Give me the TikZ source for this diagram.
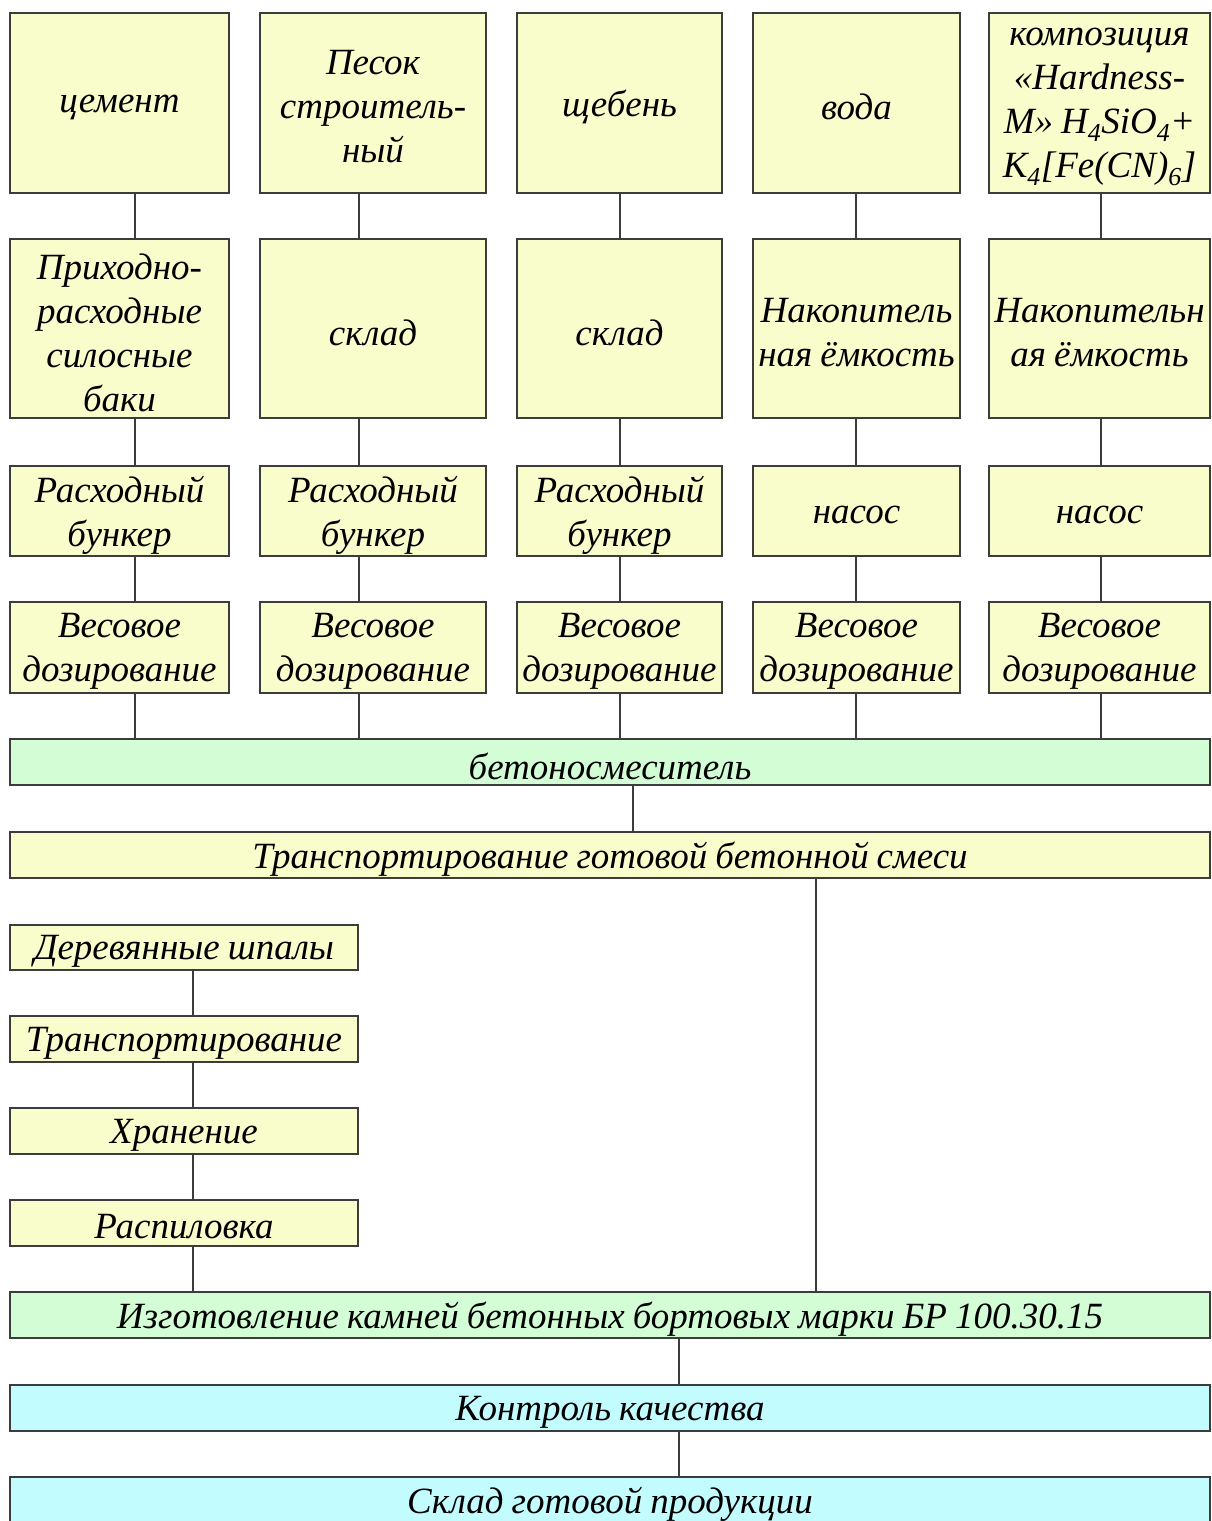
\documentclass[tikz,border=0pt]{standalone}
\usepackage{fontspec}
\setmainfont{Liberation Serif}
\begin{document}
\begin{tikzpicture}[x=1pt,y=-1pt,
  frame/.style={draw=linegray, line width=1.4pt, inner sep=0pt, anchor=center},
  yel/.style={frame, fill=boxyellow},
  grn/.style={frame, fill=boxgreen},
  cyn/.style={frame, fill=boxcyan},
  label/.style={inner sep=0pt, align=center, anchor=center,
    font=\itshape\fontsize{37}{44}\selectfont},
  link/.style={draw=linegray, line width=1.4pt}]
\definecolor{boxyellow}{HTML}{F9FDCB}
\definecolor{boxgreen}{HTML}{D3FDD5}
\definecolor{boxcyan}{HTML}{C3FCFF}
\definecolor{linegray}{HTML}{3C3C3C}
\useasboundingbox (0,0) rectangle (1211,1521);
% box helper: name, left, top, right, bottom, fill style, text
\newcommand\bx[7]{%
  \node[#6, minimum width={#4-#2}, minimum height={#5-#3}]
    (#1) at ({(#2+#4)/2},{(#3+#5)/2}) {};
  \node[label, text width={#4-#2-6}] (#1t) at ([yshift=-4pt]#1.center)
    {\spaceskip=8pt\relax #7};}
% row 1: raw materials
\bx{a1}{10}{13}{229}{193}{yel}{цемент}
\bx{b1}{260}{13}{486}{193}{yel}{Песок\\строитель-\\ный}
\bx{c1}{517}{13}{722}{193}{yel}{щебень}
\bx{d1}{753}{13}{960}{193}{yel}{вода}
\bx{e1}{989}{13}{1210}{193}{yel}{композиция\\«Hardness-\\M» H\textsubscript{4}SiO\textsubscript{4}+\\K\textsubscript{4}[Fe(CN)\textsubscript{6}]}
% row 2: storage
\bx{a2}{10}{239}{229}{418}{yel}{Приходно-\\расходные\\силосные\\баки}
\bx{b2}{260}{239}{486}{418}{yel}{склад}
\bx{c2}{517}{239}{722}{418}{yel}{склад}
\bx{d2}{753}{239}{960}{418}{yel}{Накопитель\\ная ёмкость}
\bx{e2}{989}{239}{1210}{418}{yel}{Накопительн\\ая ёмкость}
% row 3: feeding
\bx{a3}{10}{466}{229}{556}{yel}{Расходный\\бункер}
\bx{b3}{260}{466}{486}{556}{yel}{Расходный\\бункер}
\bx{c3}{517}{466}{722}{556}{yel}{Расходный\\бункер}
\bx{d3}{753}{466}{960}{556}{yel}{насос}
\bx{e3}{989}{466}{1210}{556}{yel}{насос}
% row 4: dosing
\bx{a4}{10}{602}{229}{693}{yel}{Весовое\\дозирование}
\bx{b4}{260}{602}{486}{693}{yel}{Весовое\\дозирование}
\bx{c4}{517}{602}{722}{693}{yel}{Весовое\\дозирование}
\bx{d4}{753}{602}{960}{693}{yel}{Весовое\\дозирование}
\bx{e4}{989}{602}{1210}{693}{yel}{Весовое\\дозирование}
% mixing and transport
\bx{mix}{10}{739}{1210}{785}{grn}{бетоносмеситель}
\bx{tr}{10}{832}{1210}{878}{yel}{Транспортирование готовой бетонной смеси}
% sleepers chain
\bx{s1}{10}{925}{358}{970}{yel}{Деревянные шпалы}
\bx{s2}{10}{1016}{358}{1062}{yel}{Транспортирование}
\bx{s3}{10}{1108}{358}{1154}{yel}{Хранение}
\bx{s4}{10}{1200}{358}{1246}{yel}{Распиловка}
% production and output
\bx{mk}{10}{1292}{1210}{1338}{grn}{Изготовление камней бетонных бортовых марки БР 100.30.15}
\bx{qc}{10}{1385}{1210}{1431}{cyn}{Контроль качества}
\bx{wh}{10}{1477}{1210}{1523}{cyn}{Склад готовой продукции}
% column connectors
\foreach \c/\xx in {a/135,b/359,c/620,d/856,e/1101}{
  \draw[link] (\xx,0 |- \c1.south) -- (\xx,0 |- \c2.north);
  \draw[link] (\xx,0 |- \c2.south) -- (\xx,0 |- \c3.north);
  \draw[link] (\xx,0 |- \c3.south) -- (\xx,0 |- \c4.north);
  \draw[link] (\xx,0 |- \c4.south) -- (\xx,0 |- mix.north);
}
\draw[link] (633,0 |- mix.south) -- (633,0 |- tr.north);
\draw[link] (816,0 |- tr.south) -- (816,0 |- mk.north);
\draw[link] (193,0 |- s1.south) -- (193,0 |- s2.north);
\draw[link] (193,0 |- s2.south) -- (193,0 |- s3.north);
\draw[link] (193,0 |- s3.south) -- (193,0 |- s4.north);
\draw[link] (193,0 |- s4.south) -- (193,0 |- mk.north);
\draw[link] (679,0 |- mk.south) -- (679,0 |- qc.north);
\draw[link] (679,0 |- qc.south) -- (679,0 |- wh.north);
\end{tikzpicture}
\end{document}
